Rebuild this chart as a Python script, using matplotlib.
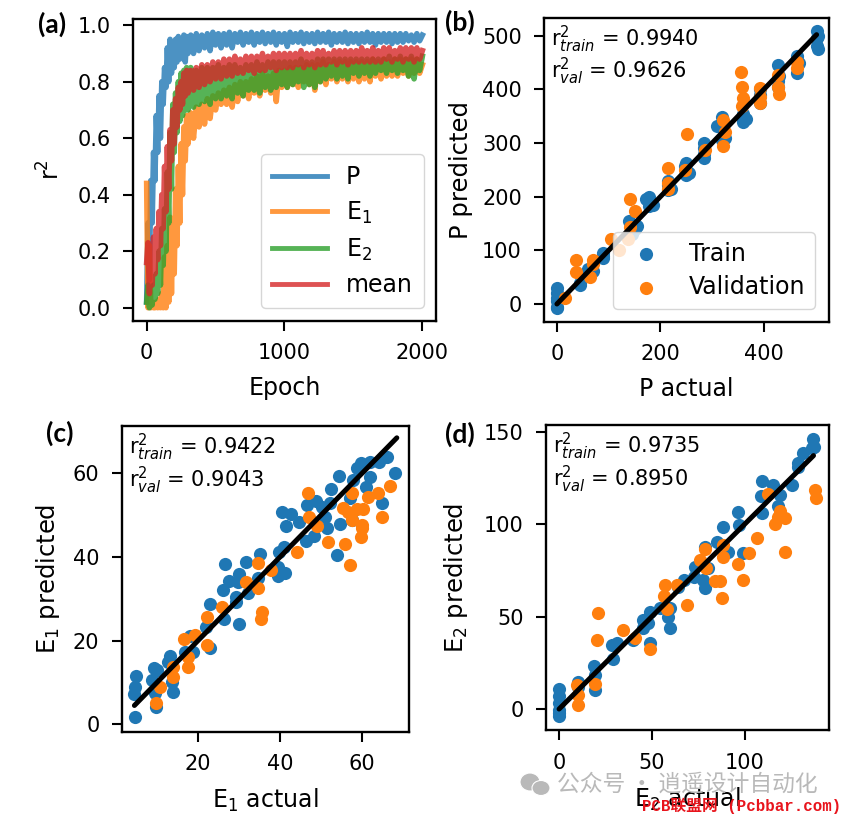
import numpy as np
import matplotlib
matplotlib.use('Agg')
import matplotlib.pyplot as plt
from matplotlib.patches import Ellipse

plt.rcParams['font.family'] = ['DejaVu Sans', 'Noto Sans CJK SC']
plt.rcParams['mathtext.default'] = 'regular'

W, H = 845, 818

p_early = [0.02, 0.30, 0.10, 0.45, 0.30, 0.55, 0.45, 0.68, 0.55, 0.75, 0.60, 0.80, 0.72, 0.85, 0.78, 0.92,
           0.80, 0.95, 0.83, 0.94, 0.85, 0.95, 0.87, 0.96, 0.88, 0.95, 0.89, 0.965, 0.87, 0.96, 0.90]
p_late = [0.965, 0.90, 0.97, 0.91, 0.965, 0.92, 0.97, 0.91, 0.975, 0.93, 0.97, 0.92, 0.97, 0.93, 0.975, 0.92,
          0.97, 0.94, 0.975, 0.93, 0.97, 0.94, 0.975, 0.93, 0.97, 0.94, 0.975, 0.935, 0.97, 0.94, 0.975, 0.93,
          0.97, 0.94, 0.97, 0.925, 0.975, 0.94, 0.97, 0.94, 0.975, 0.935, 0.97, 0.94, 0.97, 0.935, 0.975, 0.94,
          0.97, 0.94, 0.975, 0.93, 0.97, 0.94, 0.97, 0.94, 0.975, 0.935, 0.97, 0.94, 0.97, 0.935, 0.97, 0.94,
          0.975, 0.94, 0.97, 0.93, 0.97, 0.94, 0.97, 0.94, 0.97, 0.935, 0.97, 0.94, 0.97, 0.94, 0.97, 0.945,
          0.965, 0.94, 0.97, 0.945, 0.965]
e1_early = [0.44, 0.0, 0.22, 0.0, 0.02, 0.0, 0.0, 0.02, 0.0, 0.03, 0.0, 0.05, 0.0, 0.18, 0.0, 0.22,
            0.02, 0.32, 0.05, 0.30, 0.12, 0.42, 0.22, 0.50, 0.30, 0.58, 0.40, 0.64, 0.52, 0.68, 0.58]
e1_late = [0.69, 0.60, 0.71, 0.64, 0.72, 0.65, 0.74, 0.67, 0.75, 0.70, 0.76, 0.72, 0.77, 0.72, 0.78, 0.71,
           0.79, 0.73, 0.80, 0.75, 0.80, 0.74, 0.81, 0.76, 0.82, 0.75, 0.83, 0.77, 0.82, 0.76, 0.83, 0.73,
           0.84, 0.78, 0.84, 0.78, 0.85, 0.79, 0.85, 0.78, 0.85, 0.80, 0.86, 0.79, 0.86, 0.77, 0.86, 0.80,
           0.87, 0.79, 0.86, 0.81, 0.87, 0.80, 0.87, 0.81, 0.87, 0.80, 0.87, 0.81, 0.87, 0.80, 0.87, 0.81,
           0.87, 0.80, 0.88, 0.82, 0.87, 0.81, 0.88, 0.82, 0.87, 0.82, 0.88, 0.82, 0.88, 0.83, 0.88, 0.82,
           0.88, 0.83, 0.88, 0.83, 0.86]
e2_early = [0.02, 0.08, 0.0, 0.07, 0.01, 0.08, 0.03, 0.12, 0.05, 0.20, 0.08, 0.28, 0.15, 0.35, 0.20, 0.48,
            0.30, 0.62, 0.42, 0.72, 0.55, 0.76, 0.62, 0.80, 0.66, 0.83, 0.68, 0.84, 0.70, 0.85, 0.70]
e2_late = [0.85, 0.71, 0.84, 0.72, 0.85, 0.73, 0.85, 0.72, 0.85, 0.74, 0.86, 0.74, 0.85, 0.75, 0.86, 0.74,
           0.86, 0.76, 0.85, 0.75, 0.86, 0.77, 0.86, 0.77, 0.87, 0.76, 0.86, 0.78, 0.87, 0.77, 0.87, 0.78,
           0.87, 0.79, 0.87, 0.78, 0.87, 0.79, 0.87, 0.80, 0.88, 0.78, 0.87, 0.79, 0.87, 0.78, 0.88, 0.80,
           0.88, 0.81, 0.88, 0.82, 0.88, 0.81, 0.88, 0.82, 0.88, 0.81, 0.88, 0.83, 0.88, 0.82, 0.88, 0.83,
           0.88, 0.82, 0.88, 0.83, 0.88, 0.84, 0.88, 0.83, 0.89, 0.84, 0.88, 0.83, 0.89, 0.84, 0.88, 0.82,
           0.89, 0.81, 0.88, 0.84, 0.89]
mean_early = [0.16, 0.23, 0.05, 0.22, 0.08, 0.25, 0.12, 0.28, 0.17, 0.34, 0.22, 0.40, 0.28, 0.50, 0.34, 0.57,
              0.42, 0.63, 0.52, 0.70, 0.58, 0.74, 0.64, 0.78, 0.70, 0.80, 0.72, 0.83, 0.75, 0.84, 0.76]
mean_late = [0.84, 0.77, 0.85, 0.78, 0.86, 0.79, 0.86, 0.80, 0.87, 0.81, 0.87, 0.81, 0.88, 0.82, 0.88, 0.82,
             0.89, 0.83, 0.88, 0.83, 0.89, 0.84, 0.89, 0.83, 0.89, 0.84, 0.90, 0.84, 0.89, 0.85, 0.90, 0.84,
             0.90, 0.85, 0.90, 0.85, 0.90, 0.85, 0.90, 0.86, 0.91, 0.85, 0.90, 0.86, 0.90, 0.85, 0.91, 0.86,
             0.91, 0.86, 0.90, 0.87, 0.91, 0.86, 0.91, 0.87, 0.91, 0.86, 0.91, 0.87, 0.91, 0.87, 0.92, 0.87,
             0.91, 0.87, 0.92, 0.87, 0.91, 0.87, 0.92, 0.88, 0.92, 0.87, 0.91, 0.88, 0.92, 0.87, 0.92, 0.88,
             0.92, 0.87, 0.92, 0.88, 0.91]

# panel b
p_train_x = [0, 0, 0, 0, 0, 0, 45, 45, 60, 60, 70, 90, 90, 90, 140, 150, 145, 155, 178, 178, 178, 185, 172,
             215, 215, 215, 220, 250, 250, 250, 255, 248, 285, 285, 285, 285, 320, 320, 320, 325, 310,
             360, 360, 360, 365, 393, 393, 393, 428, 428, 428, 430, 465, 465, 468, 502, 502, 502, 505, 505]
p_train_y = [30, 12, 5, -5, -8, 20, 35, 40, 65, 60, 62, 85, 95, 90, 155, 140, 130, 145, 200, 190, 182, 185, 195,
             230, 212, 222, 215, 262, 240, 250, 245, 258, 300, 272, 290, 280, 348, 305, 330, 310, 332,
             345, 355, 340, 345, 375, 390, 400, 445, 415, 405, 425, 462, 430, 450, 508, 495, 480, 475, 500]
p_val_x = [15, 37, 37, 63, 70, 70, 105, 120, 138, 141, 141, 151, 214, 214, 215, 251, 248, 286, 322, 322, 325,
           356, 357, 359, 357, 393, 393, 393, 428, 428, 430, 464, 464]
p_val_y = [12, 82, 59, 51, 82, 74, 122, 101, 122, 144, 196, 174, 254, 225, 215, 316, 250, 287, 343, 295, 321,
           432, 404, 384, 369, 402, 386, 374, 427, 404, 391, 451, 439]

# panel c
e1_train_x = [4.6, 5, 4.6, 4.5, 9.3, 9.9, 8.7, 9.5, 9.7, 13.2, 12.8, 13.7, 14, 16.8, 18.9, 18, 22, 22.9, 22.9,
              26, 26.3, 26.7, 27.6, 30, 29.8, 29.9, 29.4, 29.4, 32.3, 31.7, 35.1, 34.7, 39.6, 41.2, 39.6, 39.8,
              41, 40.4, 42.6, 41.5, 44.7, 46.3, 48.3, 46.5, 48.8, 50.2, 51.4, 51, 52.4, 52.2, 54.3, 54.6, 53.9,
              57, 57.9, 58.7, 59.8, 62, 61.1, 62, 64.1, 66, 65, 68, 57.5]
e1_train_y = [1.7, 11.6, 9, 7.2, 13.4, 13.1, 10.6, 7.4, 4.1, 16.3, 15, 10.2, 7.8, 17.4, 17.4, 21, 23.3, 18.3, 28.7,
              32, 25.2, 38.3, 34.3, 36, 34, 24.1, 30.5, 29.3, 31.3, 38.8, 40.7, 34.9, 35.5, 36.1, 37.7, 41.3,
              42.3, 50.8, 50.2, 47.3, 48.4, 43.8, 45, 52.4, 53.5, 52, 46.9, 49.6, 56.2, 52.8, 59.4, 48, 40.5,
              54, 58.4, 61.2, 62.4, 62.8, 56.8, 59.2, 62.8, 64, 52.8, 60.2, 48.8]
e1_val_x = [9.8, 10.7, 14, 14, 16.7, 19.3, 17.6, 17.6, 22.1, 22.1, 25.8, 31.7, 34.7, 34.7, 35.5, 35.3, 37.8, 44.2,
            46.9, 47.1, 49.1, 51.8, 55.9, 57.1, 57.5, 55.3, 56.7, 57.5, 58.7, 60.2, 60.1, 60.1, 59.8, 61.5, 63.8,
            66.8, 65]
e1_val_y = [5, 9, 13.8, 11.2, 20.5, 21.4, 16.2, 13.6, 25.6, 19, 28.1, 34, 38.6, 32.7, 26.9, 25.2, 36.9, 41.3,
            55.2, 49.5, 47.3, 43.5, 43, 38.1, 55.4, 51.8, 50.8, 48.8, 51.5, 51.5, 47.6, 46.9, 44.7, 54.3, 55.4,
            57, 49.6]

# panel d
e2_train_x = [0, 0, 0, 0, 0, 0, 10, 10.4, 18.9, 19.4, 19.4, 29.3, 28.4, 31, 40, 45.4, 45.4, 49, 48, 49, 54.4,
              59.8, 58.9, 59.8, 64.3, 67, 72.4, 73.3, 78.6, 77.7, 80.4, 78.6, 84.9, 88.5, 91.2, 96.6, 97.1, 99.3,
              109.2, 108.8, 109.2, 115.4, 119, 118, 125.3, 128.9, 128.9, 131.6, 136, 136.6, 137]
e2_train_y = [11, 7, 3, -0.5, -4, -2, 12, 14.8, 23.2, 18.4, 10.3, 26.8, 34.6, 35.5, 37.3, 43.6, 48, 52.6, 46.3,
              35.5, 54.4, 43.6, 49.9, 54.4, 66.1, 69.7, 71.5, 76.9, 65.2, 69.7, 76, 87.7, 90.5, 98.6, 85, 106.7,
              99.5, 84.1, 123.4, 115, 105.8, 121, 115.7, 110, 121, 133, 131, 138.6, 140.9, 145.8, 141.8]
e2_val_x = [10.4, 10.4, 9.5, 19.4, 20.8, 20.6, 34.6, 40.9, 49, 57, 56.7, 58.3, 63.7, 68.8, 75.9, 78.6, 79.2, 84,
            86.4, 87.6, 88.2, 88.5, 96.6, 98.9, 102, 106.5, 112.4, 116.3, 119, 121.7, 118, 121.4, 137.9, 138.4]
e2_val_y = [2.2, 7.6, 13, 13.3, 51.7, 37.3, 42.7, 38.6, 32.3, 67, 61.3, 54, 67, 56.2, 80.5, 86.3, 76, 69.4,
            69.4, 59.8, 82, 88.6, 78.2, 69.7, 84.5, 92.6, 116.2, 100, 107, 103.4, 104, 85, 118.4, 113.9]

p_line = [0, 502]
e1_line = [4.5, 68.5]
e2_line = [0, 137]

fig = plt.figure(figsize=(W / 100, H / 100), dpi=100)


def make_axes(left, right, top, bottom):
    ax = fig.add_axes([left / W, 1 - bottom / H, (right - left) / W, (bottom - top) / H])
    for s in ax.spines.values():
        s.set_linewidth(1.7)
    ax.tick_params(labelsize=15, width=1.5, length=7, pad=9)
    return ax


def parity(ax, tx, ty, vx, vy, line, r_train, r_val, xlab, ylab, ypad):
    ax.scatter(tx, ty, s=90, color='#1f77b4', linewidths=0, label='Train')
    ax.scatter(vx, vy, s=90, color='#ff7f0e', linewidths=0, label='Validation')
    ax.plot(line, line, color='black', lw=3.6, solid_capstyle='round')
    ax.set_xlabel(xlab, fontsize=17, labelpad=9.5)
    ax.set_ylabel(ylab, fontsize=17.5, labelpad=ypad)
    ax.text(0.024, 0.906, r'r$^{2}_{\mathit{train}}$ = ' + r_train, transform=ax.transAxes, fontsize=15, va='baseline')
    ax.text(0.024, 0.80, r'r$^{2}_{\mathit{val}}$ = ' + r_val, transform=ax.transAxes, fontsize=15, va='baseline')


# (a)
ax = make_axes(133, 436, 19, 321)
early_x = np.arange(0, 310, 10)
for early, late, lab, col in [(p_early, p_late, 'P', '#1f77b4'),
                              (e1_early, e1_late, 'E$_1$', '#ff7f0e'),
                              (e2_early, e2_late, 'E$_2$', '#2ca02c'),
                              (mean_early, mean_late, 'mean', '#d62728')]:
    xs = np.concatenate([early_x, np.linspace(320, 2000, len(late))])
    ax.plot(xs, early + late, color=col, lw=4, alpha=0.8, label=lab)
ax.set_xlim(-99, 2099)
ax.set_ylim(-0.047, 1.022)
ax.set_xticks([0, 1000, 2000])
ax.set_yticks([0, 0.2, 0.4, 0.6, 0.8, 1.0])
ax.set_xlabel('Epoch', fontsize=17, labelpad=9.5)
ax.set_ylabel('r$^2$', fontsize=17, labelpad=9)
leg = ax.legend(loc='lower right', fontsize=17, handlelength=2.35, borderaxespad=0.5,
                bbox_to_anchor=(0.998, 0.004), borderpad=0.45, labelspacing=0.45)
for line in leg.get_lines():
    line.set_linewidth(3.5)

# (b)
ax = make_axes(544, 829, 17.5, 321.7)
parity(ax, p_train_x, p_train_y, p_val_x, p_val_y, p_line, '0.9940', '0.9626', 'P actual', 'P predicted', 6.5)
ax.set_xlim(-25, 526)
ax.set_ylim(-33, 534)
ax.set_xticks([0, 200, 400])
ax.set_yticks([0, 100, 200, 300, 400, 500])
ax.legend(loc='lower right', fontsize=17, bbox_to_anchor=(0.975, 0.02), borderaxespad=0.3,
          borderpad=0.4, labelspacing=0.4)

# (c)
ax = make_axes(121.7, 408.7, 425.7, 731.7)
parity(ax, e1_train_x, e1_train_y, e1_val_x, e1_val_y, e1_line, '0.9422', '0.9043', 'E$_1$ actual', 'E$_1$ predicted', 8)
ax.set_xlim(1.4, 71.4)
ax.set_ylim(-1.77, 71.4)
ax.set_xticks([20, 40, 60])
ax.set_yticks([0, 20, 40, 60])

# (d)
ax = make_axes(545.7, 829.3, 424.7, 730.3)
parity(ax, e2_train_x, e2_train_y, e2_val_x, e2_val_y, e2_line, '0.9735', '0.8950', 'E$_2$ actual', 'E$_2$ predicted', 10)
ax.set_xlim(-7.2, 145.5)
ax.set_ylim(-11.5, 153.7)
ax.set_xticks([0, 50, 100])
ax.set_yticks([0, 50, 100, 150])

# panel letters
for lab, px, py in [('(a)', 38, 33), ('(b)', 445, 31), ('(c)', 46, 442), ('(d)', 445, 443)]:
    fig.text(px / W, 1 - py / H, lab, fontsize=19, fontweight='bold', family='Lato', va='baseline')

# watermarks
fig.text(557 / W, 1 - 791 / H, '公众号 · 逍遥设计自动化', fontsize=16.4, color='#b9b9b9',
         family=['Noto Sans CJK SC', 'DejaVu Sans'], va='baseline')
fig.text(642 / W, 1 - 811 / H, 'PCB联盟网 (Pcbbar.com)', fontsize=11.3, color='#e8141c', fontweight='bold',
         family=['Liberation Mono', 'Noto Sans CJK SC'], va='baseline')
for cx, cy, ew, eh in [(530, 782, 20, 18), (541, 788, 18, 15)]:
    fig.add_artist(Ellipse((cx / W, 1 - cy / H), ew / W, eh / H, transform=fig.transFigure,
                           facecolor='#b9b9b9', edgecolor='white', lw=0.8))

fig.savefig('out.png', dpi=100)
